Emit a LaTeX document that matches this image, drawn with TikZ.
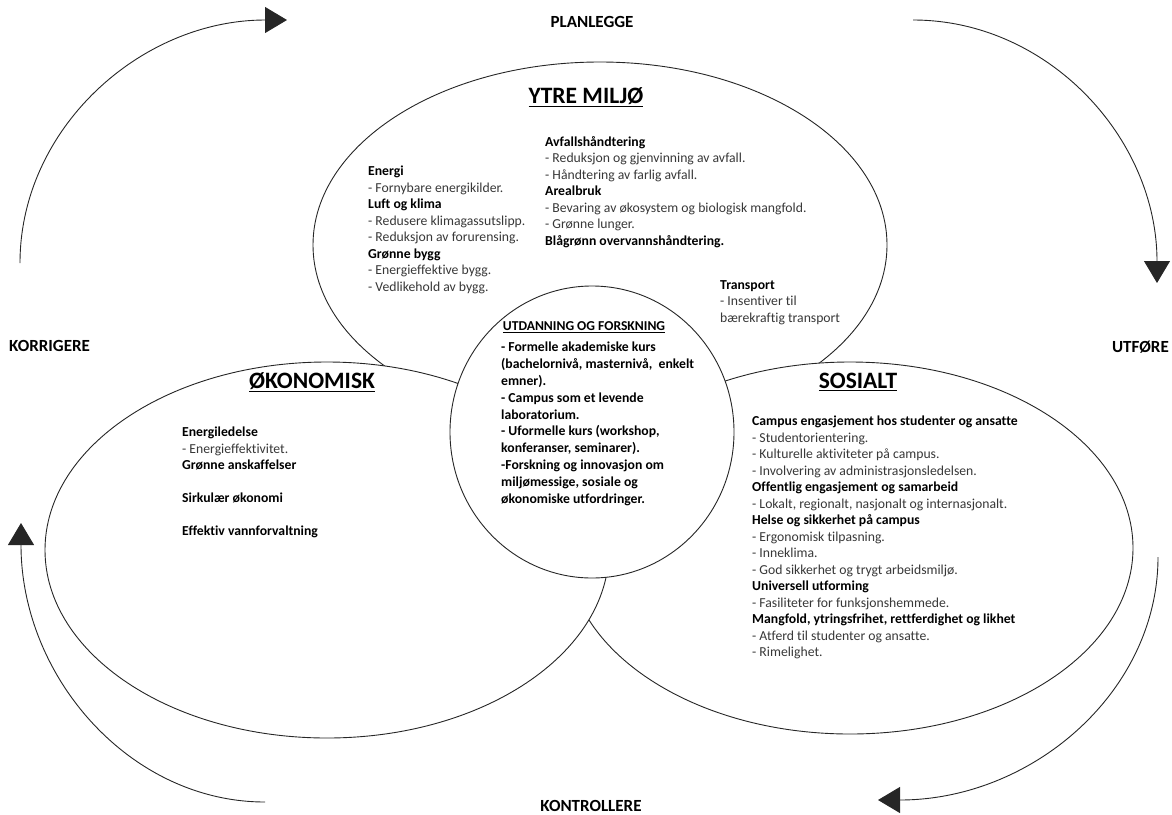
\documentclass[tikz,border=0pt]{standalone}
\usepackage{fontspec}
\setmainfont{Carlito}[Ligatures=NoCommon]
\usetikzlibrary{arrows.meta}
\newcommand\grp[1]{{\bfseries\color{black}#1}}
\tikzset{
  blob/.style={draw=black!85, fill=white, line width=0.9pt},
  blocktext/.style={anchor=north west, inner sep=0pt, align=left, text=black!78,
    font=\fontsize{13.7}{16.5}\selectfont},
  coretext/.style={anchor=north west, inner sep=0pt, align=left,
    font=\fontsize{13.7}{16.8}\selectfont\bfseries},
  areatitle/.style={inner sep=0pt, font=\fontsize{23.5}{26}\selectfont\bfseries},
  phase/.style={inner sep=0pt, font=\fontsize{17}{19}\selectfont\bfseries},
  cyc/.style={draw=black!85, line width=0.9pt, -{Triangle[length=22pt,width=26pt]}},
}
\begin{document}
\begin{tikzpicture}[x=1pt,y=-1pt]
\useasboundingbox (0,0) rectangle (1172,814);
\draw[blob] (600,245) ellipse [x radius=287, y radius=183];
\draw[blob] (850,548) ellipse [x radius=283, y radius=186];
\draw[blob] (327,550) ellipse [x radius=282, y radius=188];
\draw[blob] (592,432) ellipse [x radius=142, y radius=146];

\node[areatitle] (miljoTitle) at (586,97) {\underline{YTRE MILJØ}};
\node[areatitle] (okoTitle) at (312,382) {\underline{ØKONOMISK}};
\node[areatitle] (sosTitle) at (858,382) {\underline{SOSIALT}};

\node[blocktext] (miljoA) at (368,166) {\grp{Energi}\\- Fornybare energikilder.\\\grp{Luft og klima}\\- Redusere klimagassutslipp.\\- Reduksjon av forurensing.\\\grp{Grønne bygg}\\- Energieffektive bygg.\\- Vedlikehold av bygg.};
\node[blocktext] (miljoB) at (545,136) {\grp{Avfallshåndtering}\\- Reduksjon og gjenvinning av avfall.\\- Håndtering av farlig avfall.\\\grp{Arealbruk}\\- Bevaring av økosystem og biologisk mangfold.\\- Grønne lunger.\\\grp{Blågrønn overvannshåndtering.}};
\node[blocktext] (miljoC) at (720,280) {\grp{Transport}\\- Insentiver til\\bærekraftig transport};

\node[blocktext] (okoA) at (182,427) {\grp{Energiledelse}\\- Energieffektivitet.\\\grp{Grønne anskaffelser}\\[16.5pt]\grp{Sirkulær økonomi}\\[16.5pt]\grp{Effektiv vannforvaltning}};

\node[blocktext] (sosA) at (752,416) {\grp{Campus engasjement hos studenter og ansatte}\\- Studentorientering.\\- Kulturelle aktiviteter på campus.\\- Involvering av administrasjonsledelsen.\\\grp{Offentlig engasjement og samarbeid}\\- Lokalt, regionalt, nasjonalt og internasjonalt.\\\grp{Helse og sikkerhet på campus}\\- Ergonomisk tilpasning.\\- Inneklima.\\- God sikkerhet og trygt arbeidsmiljø.\\\grp{Universell utforming}\\- Fasiliteter for funksjonshemmede.\\\grp{Mangfold, ytringsfrihet, rettferdighet og likhet}\\- Atferd til studenter og ansatte.\\- Rimelighet.};

\node[inner sep=0pt, font=\fontsize{13.6}{15}\selectfont\bfseries] (coreTitle) at (584,327) {\underline{UTDANNING OG FORSKNING}};
\node[coretext] (coreA) at (501,342) {- Formelle akademiske kurs\\(bachelornivå, masternivå,~ enkelt\\emner).\\- Campus som et levende\\laboratorium.\\- Uformelle kurs (workshop,\\konferanser, seminarer).\\-Forskning og innovasjon om\\miljømessige, sosiale og\\økonomiske utfordringer.};

\node[phase] (plan) at (592,22) {PLANLEGGE};
\node[phase, anchor=east] (utf) at (1169,347) {UTFØRE};
\node[phase] (kontr) at (591,806) {KONTROLLERE};
\node[phase, anchor=west] (korr) at (9,346) {KORRIGERE};

\coordinate (tlA) at (20,263);
\coordinate (tlB) at (287,20);
\coordinate (trA) at (913,20);
\coordinate (trB) at (1157,283);
\coordinate (brA) at (1158,557);
\coordinate (brB) at (878,800);
\coordinate (blA) at (265,802);
\coordinate (blB) at (21,523);
\draw[cyc] (tlA) .. controls (20,129) and (140,20) .. (tlB);
\draw[cyc] (trA) .. controls (1048,20) and (1157,138) .. (trB);
\draw[cyc] (brA) .. controls (1158,691) and (1033,800) .. (brB);
\draw[cyc] (blA) .. controls (130,802) and (21,677) .. (blB);
\end{tikzpicture}
\end{document}
